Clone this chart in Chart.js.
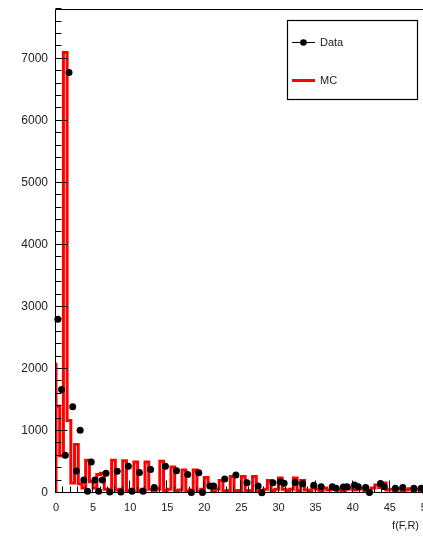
<!DOCTYPE html>
<html><head><meta charset="utf-8">
<script src="https://cdn.jsdelivr.net/npm/chart.js@4.4.0/dist/chart.umd.min.js"></script>
<style>
html,body{margin:0;padding:0;overflow:hidden;background:#fff;width:423px;height:537px;position:relative}
#wrap{position:absolute;left:0;top:-6px;width:441px;height:543px}
</style>
</head><body><div id="wrap"><canvas id="c" width="441" height="543"></canvas></div>
<script>
// ---- data (100 bins of width 0.5 from 0 to 50) ----
const binStart = 0;
const binWidth = 0.5;
const dataValues = [
  2800, 1670, 610, 6780, 1390, 355, 1010, 210, 30, 500,
  210, 30, 210, 320, 15, null, 350, 15, null, 430,
  30, null, 330, 30, null, 380, 90, null, null, 430,
  null, null, 360, null, null, 300, 10, null, 325, 10,
  null, 113, 113, null, null, 225, null, null, 290, null,
  null, 166, null, null, 113, 5, null, null, 166, null,
  180, 156, null, null, 170, null, 150, null, null, 125,
  null, 100, null, null, 100, 75, null, 95, 100, null,
  130, 100, null, 90, 10, null, null, 155, 100, null,
  null, 75, null, 90, null, null, 75, null, 75, 40
];
const mcValues = [
  2100, 1400, 600, 7100, 1170, 160, 780, 150, 80, 530,
  180, 80, 300, 320, 60, 40, 530, 50, 60, 520,
  40, 60, 500, 40, 60, 500, 60, 40, 60, 510,
  40, 60, 420, 40, 50, 370, 30, 50, 370, 30,
  60, 250, 120, 30, 60, 200, 30, 40, 265, 40,
  40, 265, 40, 40, 265, 30, 40, 60, 200, 40,
  60, 240, 60, 40, 60, 240, 40, 200, 50, 40,
  100, 60, 40, 80, 50, 60, 90, 50, 40, 60,
  80, 50, 60, 70, 40, 50, 80, 130, 90, 160,
  50, 60, 40, 70, 40, 50, 70, 40, 60, 50
];
const xTickValues = [0, 5, 10, 15, 20, 25, 30, 35, 40, 45, 50];
const yTickValues = [0, 1000, 2000, 3000, 4000, 5000, 6000, 7000];
const seriesNames = ['Data', 'MC'];
const xAxisTitle = 'f(F,R)';
const xMin = 0, xMax = 50, yMin = 0, yMax = 7800;

// ---- build library datasets ----
const dataPoints = [];
dataValues.forEach((v, i) => { if (v !== null) dataPoints.push({x: binStart + (i + 0.5) * binWidth, y: v}); });
const mcPoints = [{x: binStart, y: 0}];
mcValues.forEach((v, i) => mcPoints.push({x: binStart + i * binWidth, y: v}));
mcPoints.push({x: binStart + mcValues.length * binWidth, y: mcValues[mcValues.length - 1]});

const FONT = '"Liberation Sans", Arial, Helvetica, sans-serif';
const OY = 6; // canvas is shifted up by this many pixels in the page

const rootFrame = {
  id: 'rootFrame',
  afterDatasetsDraw(chart) {
    const {ctx, chartArea: a, scales: {x, y}} = chart;
    ctx.save();
    ctx.strokeStyle = '#000';
    ctx.lineWidth = 1;
    const L = Math.round(a.left) - 0.5, T = Math.round(a.top) + 0.5;
    const R = Math.round(a.right) - 0.5, B = Math.round(a.bottom) - 0.5;
    ctx.beginPath();
    ctx.moveTo(L, T); ctx.lineTo(R, T); ctx.lineTo(R, B); ctx.lineTo(L, B); ctx.closePath();
    ctx.stroke();
    ctx.beginPath();
    for (let v = yMin; v <= yMax; v += 200) {
      const py = Math.round(y.getPixelForValue(v)) - 0.5;
      const len = (v % 1000 === 0) ? 12 : 6;
      ctx.moveTo(L, py); ctx.lineTo(L + len, py);
    }
    for (let v = xMin; v <= xMax; v += 1) {
      const px = Math.round(x.getPixelForValue(v)) - 0.5;
      const len = (v % 5 === 0) ? 12 : 6;
      ctx.moveTo(px, B); ctx.lineTo(px, B - len);
    }
    ctx.stroke();
    ctx.restore();
  },
  afterDraw(chart) {
    const {ctx} = chart;
    ctx.save();
    ctx.translate(0, OY);
    ctx.fillStyle = '#222';
    ctx.font = '11px ' + FONT;
    ctx.textAlign = 'right';
    ctx.textBaseline = 'middle';
    ctx.fillText(xAxisTitle, 419, 526);
    ctx.fillStyle = '#fff';
    ctx.fillRect(287.5, 20.5, 130, 79);
    ctx.strokeStyle = '#000';
    ctx.lineWidth = 1.2;
    ctx.strokeRect(287.5, 20.5, 130, 79);
    ctx.lineWidth = 1;
    ctx.beginPath(); ctx.moveTo(292, 42.5); ctx.lineTo(315, 42.5); ctx.stroke();
    ctx.fillStyle = '#000';
    ctx.beginPath(); ctx.arc(303.5, 42.5, 3.3, 0, Math.PI * 2); ctx.fill();
    ctx.strokeStyle = '#ff0000';
    ctx.lineWidth = 3;
    ctx.beginPath(); ctx.moveTo(292, 80.5); ctx.lineTo(315, 80.5); ctx.stroke();
    ctx.fillStyle = '#222';
    ctx.textAlign = 'left';
    ctx.fillText(seriesNames[0], 320, 43);
    ctx.fillText(seriesNames[1], 320, 81);
    ctx.restore();
  }
};

new Chart(document.getElementById('c'), {
  type: 'line',
  data: {
    datasets: [
      {
        label: seriesNames[0],
        data: dataPoints,
        showLine: false,
        pointRadius: 3.5,
        pointHoverRadius: 3.5,
        pointBackgroundColor: '#000',
        pointBorderColor: '#000',
        pointBorderWidth: 0,
        borderColor: '#000',
        backgroundColor: '#000',
        clip: false,
        order: 0
      },
      {
        label: seriesNames[1],
        data: mcPoints,
        stepped: 'after',
        borderColor: '#ff0000',
        backgroundColor: '#ff0000',
        borderWidth: 3,
        pointRadius: 0,
        fill: false,
        tension: 0,
        order: 1
      }
    ]
  },
  options: {
    responsive: false,
    animation: false,
    devicePixelRatio: 1,
    layout: {padding: {top: 3, right: 0, left: 0, bottom: 0}},
    plugins: {legend: {display: false}, tooltip: {enabled: false}},
    events: [],
    scales: {
      x: {
        type: 'linear', min: xMin, max: xMax,
        afterFit(s) { s.height = 44; },
        afterBuildTicks(s) { s.ticks = xTickValues.map(v => ({value: v})); },
        grid: {display: false, drawTicks: false},
        border: {display: false},
        ticks: {padding: 8, color: '#222', font: {family: FONT, size: 11}, maxRotation: 0, autoSkip: false,
                callback: v => String(v)}
      },
      y: {
        type: 'linear', min: yMin, max: yMax,
        afterFit(s) { s.width = 56; },
        afterBuildTicks(s) { s.ticks = yTickValues.map(v => ({value: v})); },
        grid: {display: false, drawTicks: false},
        border: {display: false},
        ticks: {padding: 8, color: '#222', font: {family: FONT, size: 12}, callback: v => String(v)}
      }
    }
  },
  plugins: [rootFrame]
});
</script>
</body></html>
